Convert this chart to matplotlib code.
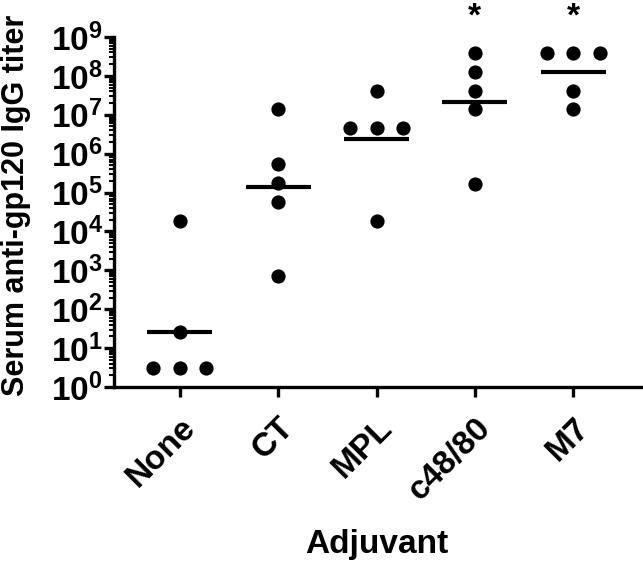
import numpy as np
import matplotlib
matplotlib.use("Agg")
import matplotlib.pyplot as plt
from matplotlib.transforms import ScaledTranslation

plt.rcParams['font.family'] = ['Liberation Sans', 'DejaVu Sans']
plt.rcParams['font.weight'] = 'bold'
plt.rcParams['mathtext.fontset'] = 'custom'
plt.rcParams['mathtext.rm'] = 'Liberation Sans:bold'
plt.rcParams['mathtext.bf'] = 'Liberation Sans:bold'
plt.rcParams['mathtext.it'] = 'Liberation Sans:bold:italic'

# --- datos ---
grupos = ['None', 'CT', 'MPL', 'c48/80', 'M7']
titulos_none = [3, 3, 3, 26, 1.9e4]
titulos_ct = [710, 5.8e4, 1.8e5, 5.3e5, 1.4e7]
titulos_mpl = [1.9e4, 4.6e6, 4.6e6, 4.6e6, 4.2e7]
titulos_c48 = [1.7e5, 1.4e7, 4.2e7, 1.25e8, 3.8e8]
titulos_m7 = [1.4e7, 4.2e7, 3.8e8, 3.8e8, 3.8e8]
significativo = [False, False, False, True, True]

datos = [titulos_none, titulos_ct, titulos_mpl, titulos_c48, titulos_m7]


def desplazamientos(valores, paso=0.27):
    """Reparte horizontalmente los puntos con el mismo valor."""
    vals = np.asarray(valores, dtype=float)
    offs = np.zeros(len(vals))
    for v in np.unique(vals):
        idx = np.where(vals == v)[0]
        n = len(idx)
        offs[idx] = (np.arange(n) - (n - 1) / 2) * paso
    return offs


fig = plt.figure(figsize=(6.43, 5.62), dpi=100)
ax = fig.add_axes([114 / 643, 1 - 387 / 562, 527 / 643, 350 / 562])

for i, vals in enumerate(datos):
    x = i + desplazamientos(vals)
    ax.scatter(x, vals, s=105, color='black', zorder=3, linewidths=0)
    gm = 10 ** np.mean(np.log10(vals))
    ax.hlines(gm, i - 0.33, i + 0.33, color='black', lw=3, zorder=4)
    if significativo[i]:
        ax.annotate('*', xy=(i, 1), xycoords=('data', 'axes fraction'),
                    xytext=(0, 14), textcoords='offset points',
                    ha='center', va='center', fontsize=24, fontweight='bold')

ax.set_yscale('log')
ax.set_ylim(1, 1e9)
ax.set_xlim(-0.67, 4.69)

ax.set_yticks([10 ** k for k in range(10)])
ax.set_yticklabels([r'$\mathbf{10^{%d}}$' % k for k in range(10)], fontsize=24)
ax.yaxis.set_minor_locator(matplotlib.ticker.LogLocator(base=10, subs=np.arange(2, 10), numticks=20))
ax.yaxis.set_minor_formatter(matplotlib.ticker.NullFormatter())

ax.set_xticks(range(len(grupos)))
ax.set_xticklabels(grupos, rotation=45, ha='right', rotation_mode='anchor',
                   fontsize=24, fontweight='bold')
desplaza = ScaledTranslation(-9 / 100, 0, fig.dpi_scale_trans)
for etiqueta in ax.get_xticklabels():
    etiqueta.set_transform(etiqueta.get_transform() + desplaza)

for lado in ['top', 'right']:
    ax.spines[lado].set_visible(False)
for lado in ['left', 'bottom']:
    ax.spines[lado].set_linewidth(2.4)

ax.tick_params(axis='both', which='major', length=7, width=2.4, direction='out')
ax.tick_params(axis='y', which='major', pad=1)
ax.tick_params(axis='x', which='major', pad=11)
ax.tick_params(axis='y', which='minor', length=3.5, width=1.5)

fig.text(16 / 643, 1 - 205 / 562, 'Serum anti-gp120 IgG titer', rotation=90,
         ha='center', va='center', fontsize=22, fontweight='bold')
fig.text(377 / 643, 1 - 553 / 562, 'Adjuvant', ha='center', va='baseline',
         fontsize=24, fontweight='bold')

fig.savefig('out.png', dpi=100)
